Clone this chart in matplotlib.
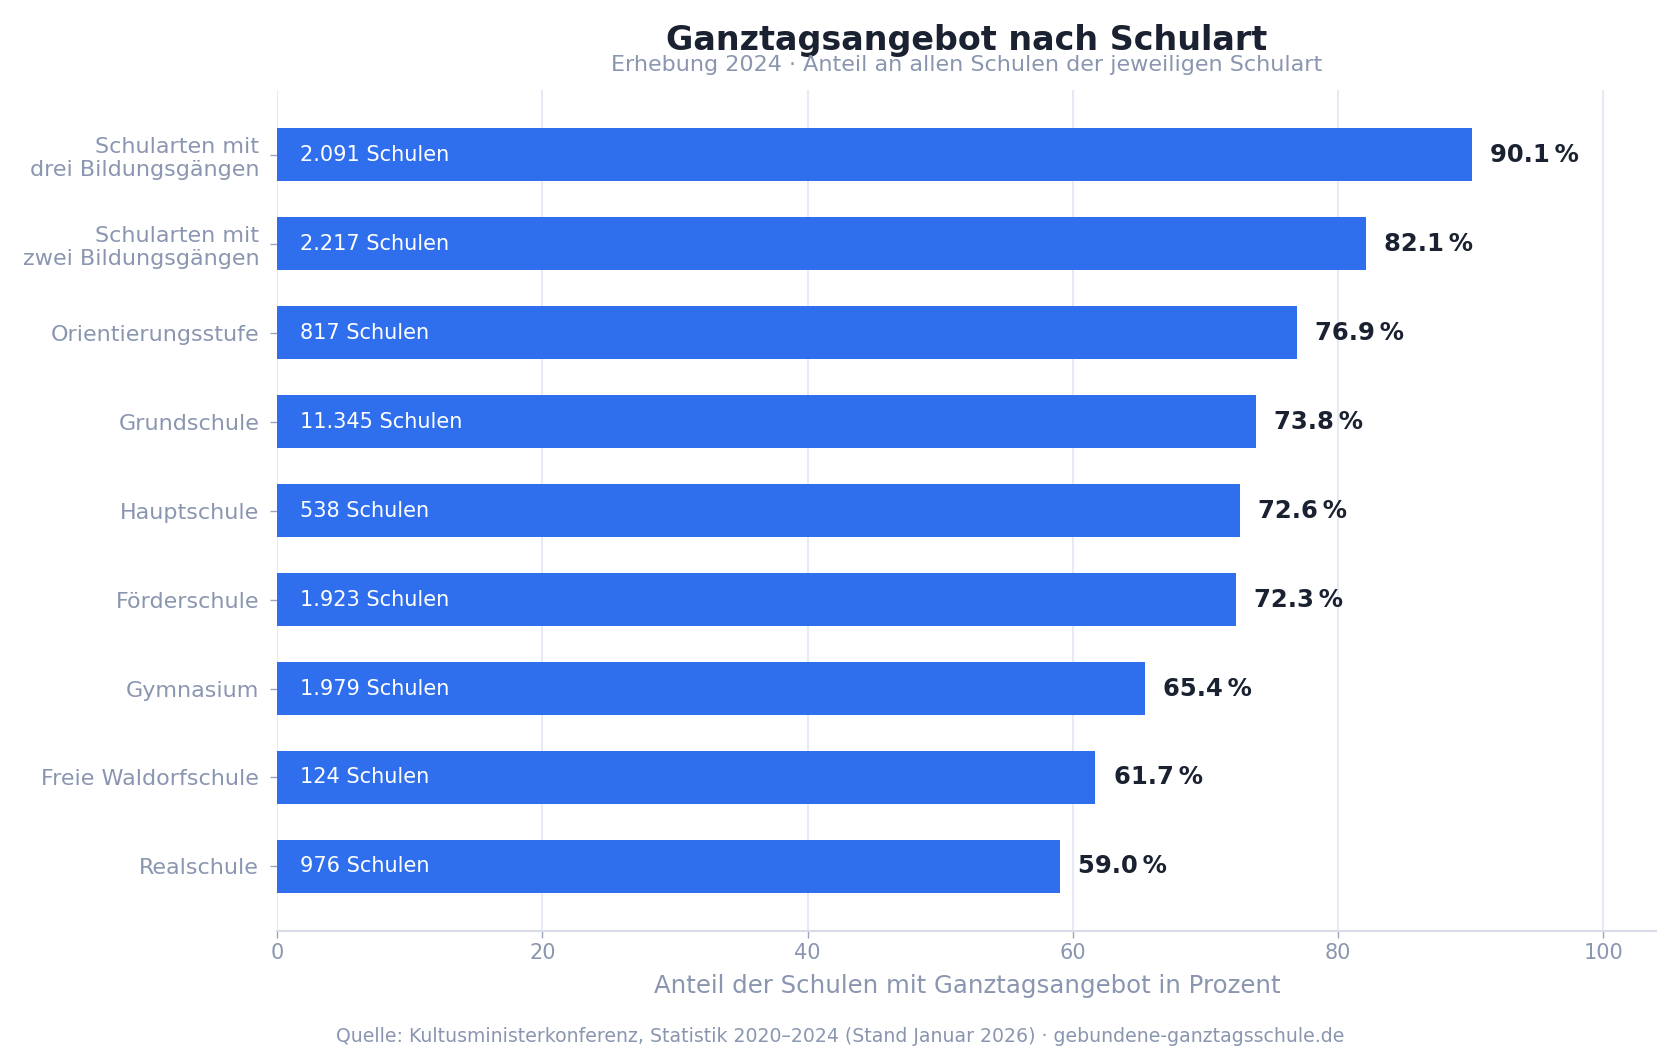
import matplotlib
matplotlib.use("Agg")
import matplotlib.pyplot as plt

# Data
schularten = [
    "Schularten mit\ndrei Bildungsgängen",
    "Schularten mit\nzwei Bildungsgängen",
    "Orientierungsstufe",
    "Grundschule",
    "Hauptschule",
    "Förderschule",
    "Gymnasium",
    "Freie Waldorfschule",
    "Realschule",
]
anteil = [90.1, 82.1, 76.9, 73.8, 72.6, 72.3, 65.4, 61.7, 59.0]
schulen = ["2.091", "2.217", "817", "11.345", "538", "1.923", "1.979", "124", "976"]

bar_color = "#2f6fee"
dark = "#1a2130"
muted = "#8a96b0"
grid_color = "#e6eaf4"

left, right = 0.165, 0.986
fig, ax = plt.subplots(figsize=(16.8, 10.56), dpi=100)
plt.subplots_adjust(left=left, right=right, top=0.915, bottom=0.118)

y = list(range(len(schularten)))
ax.barh(y, anteil, height=0.6, color=bar_color, zorder=3)
ax.invert_yaxis()
ax.set_xlim(0, 104)

# labels on the bars
for i, (v, n) in enumerate(zip(anteil, schulen)):
    ax.annotate(f"{n} Schulen", xy=(0, i), xytext=(16.5, 0), textcoords="offset points",
                ha="left", va="center", color="white", fontsize=15, zorder=4)
    ax.annotate(f"{v:.1f}\u2009%", xy=(v, i), xytext=(13, 0), textcoords="offset points",
                ha="left", va="center", color=dark, fontsize=17.5, fontweight="bold", zorder=4)

ax.set_yticks(y)
ax.set_yticklabels(schularten)
ax.set_xticks([0, 20, 40, 60, 80, 100])
ax.tick_params(axis="y", colors=muted, labelsize=16, length=5, width=1, pad=8)
ax.tick_params(axis="x", colors=muted, labelsize=15, length=5, width=1)
ax.tick_params(axis="both", color="#9aa4bb")

ax.grid(axis="x", color=grid_color, linewidth=1.5, zorder=0)
for s in ["top", "right", "left"]:
    ax.spines[s].set_visible(False)
ax.spines["bottom"].set_color("#d7dce8")
ax.spines["bottom"].set_linewidth(1.5)

ax.set_xlabel("Anteil der Schulen mit Ganztagsangebot in Prozent", color=muted, fontsize=17.6, labelpad=8)

# title and subtitle centred on the axes
cx = (left + right) / 2
fig.text(cx, 0.962, "Ganztagsangebot nach Schulart", ha="center", va="center",
         fontsize=24, fontweight="bold", color=dark)
fig.text(cx, 0.938, "Erhebung 2024 · Anteil an allen Schulen der jeweiligen Schulart",
         ha="center", va="center", fontsize=16, color=muted)

fig.text(0.5, 0.018, "Quelle: Kultusministerkonferenz, Statistik 2020–2024 (Stand Januar 2026) · gebundene-ganztagsschule.de",
         ha="center", va="center", fontsize=13.6, color=muted)

fig.savefig("out.png", dpi=100)
